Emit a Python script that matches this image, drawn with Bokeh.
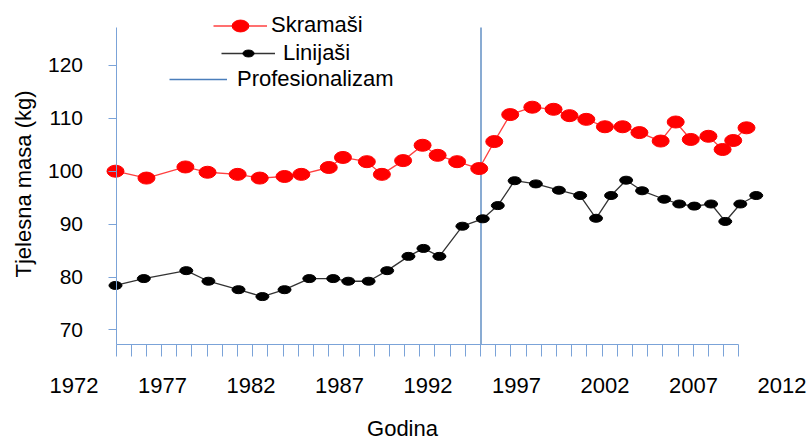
import math
from bokeh.plotting import figure
from bokeh.models import Range1d, FixedTicker, LinearAxis, Legend, LegendItem, Label
from bokeh.embed import file_html
from bokeh.resources import INLINE

# ---------------- data ----------------
scrum_years = [1974.35, 1976.1, 1978.3, 1979.55, 1981.25, 1982.5, 1983.9, 1984.85, 1986.4, 1987.2,
               1988.55, 1989.4, 1990.6, 1991.7, 1992.55, 1993.65, 1994.9, 1995.75, 1996.65, 1997.9,
               1999.1, 2000.0, 2000.95, 2002.0, 2003.0, 2003.95, 2005.15, 2006.0, 2006.85, 2007.85,
               2008.65, 2009.25, 2010.0]
scrum_mass = [100.0, 98.7, 100.8, 99.8, 99.4, 98.7, 99.0, 99.4, 100.7, 102.6,
              101.8, 99.4, 102.0, 104.9, 103.0, 101.8, 100.5, 105.6, 110.7, 112.1,
              111.7, 110.5, 109.8, 108.4, 108.4, 107.3, 105.7, 109.3, 106.0, 106.6,
              104.1, 105.8, 108.2]
back_years = [1974.35, 1975.95, 1978.35, 1979.6, 1981.3, 1982.65, 1983.9, 1985.3, 1986.65, 1987.5,
              1988.65, 1989.7, 1990.9, 1991.75, 1992.65, 1993.95, 1995.1, 1995.95, 1996.9, 1998.1,
              1999.4, 2000.6, 2001.5, 2002.35, 2003.2, 2004.1, 2005.35, 2006.2, 2007.05, 2008.0,
              2008.8, 2009.65, 2010.55]
back_mass = [78.4, 79.7, 81.2, 79.2, 77.6, 76.3, 77.6, 79.7, 79.7, 79.2,
             79.2, 81.2, 83.9, 85.4, 83.9, 89.6, 91.0, 93.5, 98.2, 97.6,
             96.4, 95.4, 91.1, 95.4, 98.3, 96.3, 94.7, 93.8, 93.4, 93.8,
             90.5, 93.8, 95.4]
prof_year = 1995
series_names = ["Skramaši", "Linijaši", "Profesionalizam"]
y_ticks = [70, 80, 90, 100, 110, 120]
x_label_ticks = [1972, 1977, 1982, 1987, 1992, 1997, 2002, 2007, 2012]
x_title = "Godina"
y_title = "Tjelesna masa (kg)"

# ---------------- layout constants (frame = whole canvas) ----------------
W, H = 808, 443
PX_PER_YEAR = 17.7
ANCHOR_PX = 480.5          # px of year 1995
PX_PER_KG = 5.29
ANCHOR_PY = 170.7          # px (from top) of 100 kg


def yr(px):
    return 1995 + (px - ANCHOR_PX) / PX_PER_YEAR


def kg(py):
    return 100 - (py - ANCHOR_PY) / PX_PER_KG


x_start, x_end = yr(0), yr(W)
y_start, y_end = kg(H), kg(0)
AXIS_X, AXIS_X_END = yr(115.5), yr(738.3)
AXIS_Y, AXIS_Y_TOP = kg(344), kg(27)
N_TICKS = 41
minor_positions = [AXIS_X + i * (AXIS_X_END - AXIS_X) / N_TICKS for i in range(N_TICKS + 1)]

FONT = "Liberation Sans"
AXIS_COLOR = "#7ba3d8"
PROF_COLOR = "#4a7ebb"

p = figure(width=W, height=H, output_backend="svg", toolbar_location=None,
           x_range=Range1d(x_start, x_end), y_range=Range1d(y_start, y_end),
           min_border=0, background_fill_color="white", border_fill_color="white")
p.outline_line_color = None
p.grid.visible = False

# y axis
ya = p.yaxis[0]
ya.fixed_location = AXIS_X
ya.bounds = (AXIS_Y, AXIS_Y_TOP)
ya.ticker = FixedTicker(ticks=y_ticks)
ya.major_tick_out = 8
ya.major_tick_in = 0
ya.minor_tick_out = 0
ya.minor_tick_in = 0
ya.axis_line_color = AXIS_COLOR
ya.major_tick_line_color = AXIS_COLOR
ya.major_label_standoff = 25
ya.major_label_text_font = FONT
ya.major_label_text_font_size = "21px"
ya.major_label_text_color = "black"

# main x axis: line + ticks, no labels
xa = p.xaxis[0]
xa.fixed_location = AXIS_Y
xa.bounds = (AXIS_X, AXIS_X_END)
xa.ticker = FixedTicker(ticks=minor_positions)
xa.major_tick_out = 12
xa.major_tick_in = 0
xa.axis_line_color = AXIS_COLOR
xa.major_tick_line_color = AXIS_COLOR
xa.major_label_text_font_size = "0px"
xa.major_label_text_alpha = 0

# year labels
la = LinearAxis(fixed_location=AXIS_Y, ticker=FixedTicker(ticks=x_label_ticks))
la.axis_line_color = None
la.major_tick_line_color = None
la.minor_tick_line_color = None
la.major_tick_out = 0
la.major_tick_in = 0
la.minor_tick_out = 0
la.major_label_standoff = 33
la.major_label_text_font = FONT
la.major_label_text_font_size = "22px"
la.major_label_text_color = "black"
p.add_layout(la, "below")

# axis titles
p.add_layout(Label(x=402, y=H - 428, x_units="screen", y_units="screen", text=x_title,
                   text_align="center", text_baseline="middle", text_font=FONT,
                   text_font_size="22px", text_color="black"))
p.add_layout(Label(x=23, y=H - 183.5, x_units="screen", y_units="screen", text=y_title,
                   angle=math.pi / 2, text_align="center", text_baseline="middle",
                   text_font=FONT, text_font_size="22px", text_color="black"))

# professionalism line
prof = p.segment(x0=[prof_year], y0=[AXIS_Y], x1=[prof_year], y1=[AXIS_Y_TOP],
                 line_color=PROF_COLOR, line_width=1.3)

# series
r_line = p.line(scrum_years, scrum_mass, line_color="#ff4040", line_width=1.3)
r_pts = p.ellipse(scrum_years, scrum_mass, width=17, height=12, width_units="screen",
                  height_units="screen", fill_color="#ff0000", line_color="#ff0000")
b_line = p.line(back_years, back_mass, line_color="#333333", line_width=1.3)
b_pts = p.ellipse(back_years, back_mass, width=13, height=8, width_units="screen",
                  height_units="screen", fill_color="#000000", line_color="#000000")


def add_legend(item, loc, gh, gw, standoff):
    lg = Legend(items=[item], location=loc, padding=0, margin=0, spacing=0,
                border_line_color=None, background_fill_alpha=0,
                glyph_width=gw, glyph_height=gh, label_height=26, label_standoff=standoff,
                label_text_font=FONT, label_text_font_size="22px", label_text_color="black")
    p.add_layout(lg, "center")


add_legend(LegendItem(label=series_names[0], renderers=[r_line, r_pts]), (213, H - 25 - 13), 21, 54, 4)
add_legend(LegendItem(label=series_names[1], renderers=[b_line, b_pts]), (221, H - 53 - 13), 14, 54, 8)
add_legend(LegendItem(label=series_names[2], renderers=[prof]), (169, H - 79 - 13), 20, 58, 10)

open("out.html", "w").write(file_html(p, INLINE))
